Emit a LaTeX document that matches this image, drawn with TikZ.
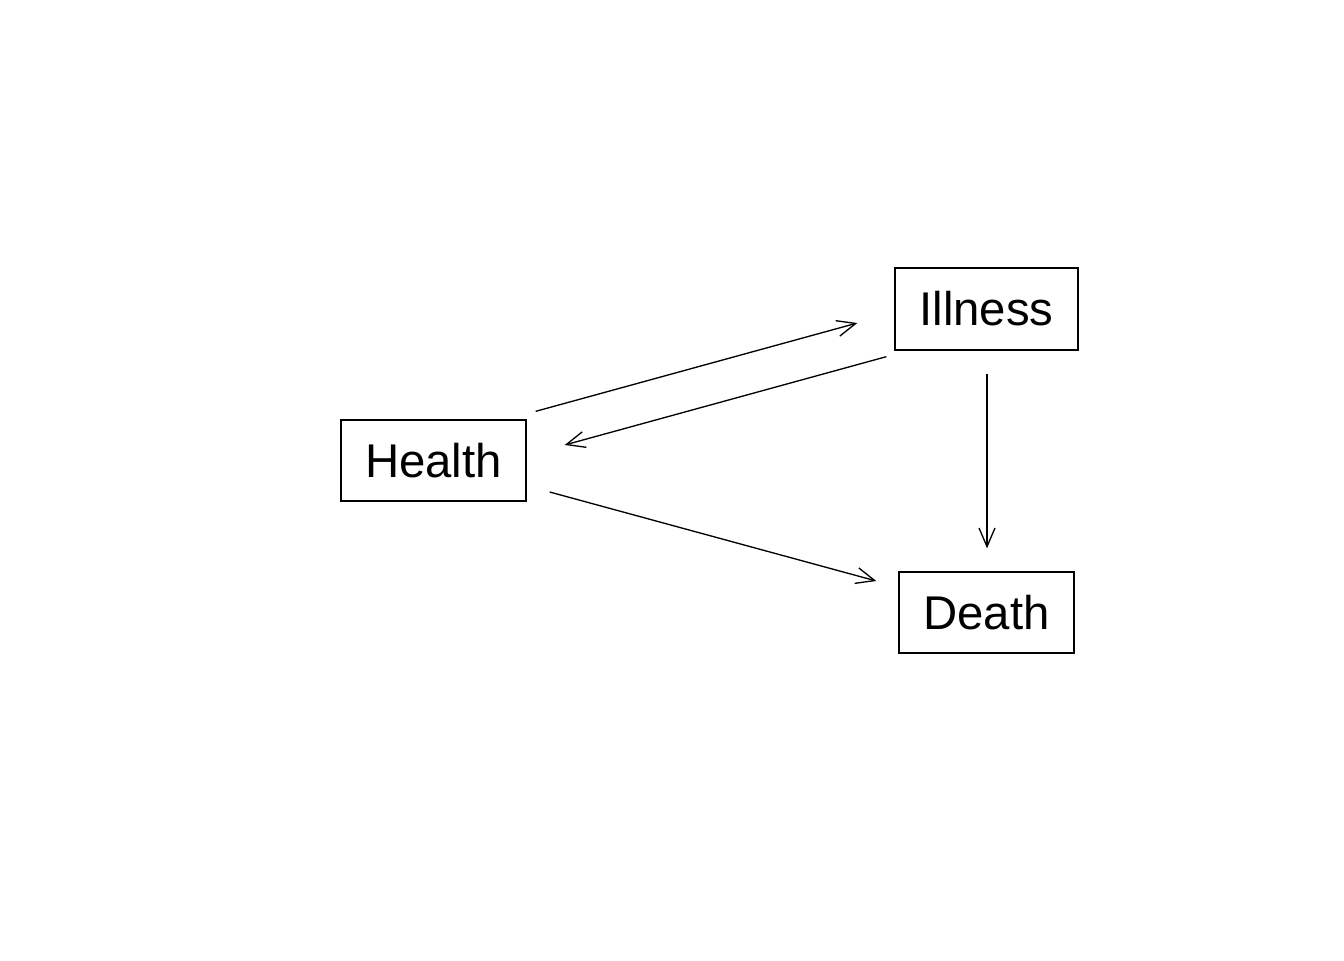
\documentclass[tikz,border=0pt]{standalone}
\usepackage{fontspec}
\setmainfont{Liberation Sans}
\usetikzlibrary{arrows.meta,calc}
\begin{document}
\begin{tikzpicture}[x=0.75pt,y=-0.75pt,
  statebox/.style={draw,line width=1pt,inner sep=0pt,font=\fontsize{35.5}{41}\selectfont},
  conn/.style={line width=1pt,-{Straight Barb[length=14pt,width=12pt,line width=1pt]}}]
\useasboundingbox (0,0) rectangle (1344,960);
\node[statebox,minimum width=138.75pt,minimum height=60.75pt] (h) at (433.5,460.5) {Health};
\node[statebox,minimum width=137.25pt,minimum height=61.5pt] (i) at (986.5,309) {Illness};
\node[statebox,minimum width=131.25pt,minimum height=60.75pt] (d) at (986.5,612.5) {Death};
\draw[conn] ($(h.north east)+(9,-8)$) -- ($(i.west)+(-37,14)$);
\draw[conn] ($(i.south west)+(-8,6)$) -- ($(h.east)+(38,-15.5)$);
\draw[conn] ($(i.south)+(0.5,23)$) -- ($(d.north)+(0.5,-23)$);
\draw[conn] ($(h.east)+(23,31.5)$) -- ($(d.west)+(-22,-31.5)$);
\end{tikzpicture}
\end{document}
